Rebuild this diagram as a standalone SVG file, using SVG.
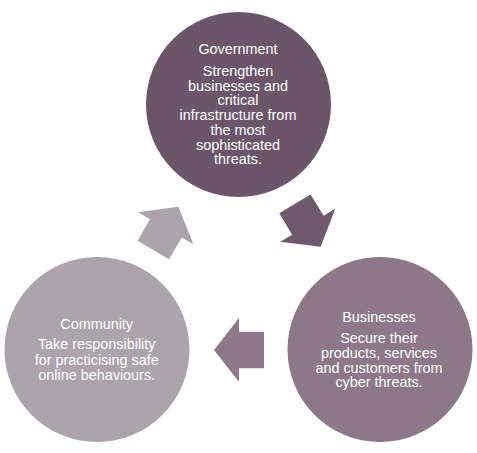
<svg xmlns="http://www.w3.org/2000/svg" width="477" height="453" viewBox="0 0 477 453">
<style>
text{font-family:"Liberation Sans",Arial,sans-serif;font-size:14.4px;fill:#ffffff;text-anchor:middle}
</style>
<defs>
<polygon id="arr" points="-50,-18.3 -25,-18.3 -25,-32 0,0 -25,32 -25,18.3 -50,18.3"/>
</defs>
<rect width="477" height="453" fill="#ffffff"/>
<g id="connectors">
<use href="#arr" fill="#6E5A6C" transform="translate(320.7,246.7) rotate(59)"/>
<use href="#arr" fill="#8C7889" transform="translate(214,350) rotate(180)"/>
<use href="#arr" fill="#ADA3AB" transform="translate(178.3,206.7) rotate(-60)"/>
</g>
<g id="government">
<circle cx="238.5" cy="104.5" r="92.5" fill="#6B5569"/>
<text x="238" y="54">Government</text>
<text x="238" y="76">Strengthen</text>
<text x="238" y="90.7">businesses and</text>
<text x="238" y="105.4">critical</text>
<text x="238" y="120.1">infrastructure from</text>
<text x="238" y="134.8">the most</text>
<text x="238" y="149.5">sophisticated</text>
<text x="238" y="164.2">threats.</text>
</g>
<g id="businesses">
<circle cx="380" cy="349.5" r="92.5" fill="#8C7889"/>
<text x="379" y="321.7">Businesses</text>
<text x="379" y="343.3">Secure their</text>
<text x="379" y="358">products, services</text>
<text x="379" y="372.7">and customers from</text>
<text x="379" y="387.4">cyber threats.</text>
</g>
<g id="community">
<circle cx="97" cy="349.5" r="92.5" fill="#ADA3AB"/>
<text x="96.7" y="329.3">Community</text>
<text x="96.7" y="349">Take responsibility</text>
<text x="96.7" y="364.5">for practicising safe</text>
<text x="96.7" y="380">online behaviours.</text>
</g>
</svg>
